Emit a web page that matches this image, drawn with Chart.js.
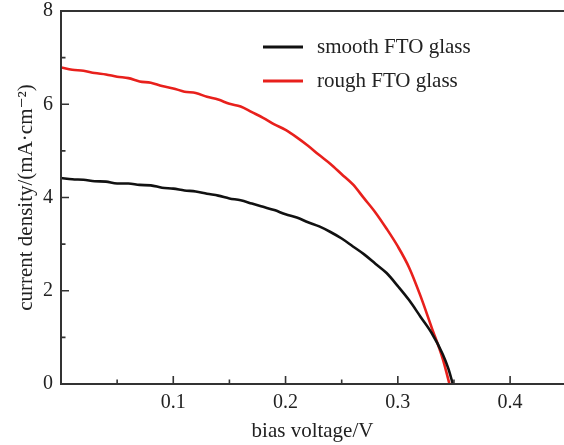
<!DOCTYPE html>
<html>
<head>
<meta charset="utf-8">
<script src="https://cdn.jsdelivr.net/npm/chart.js@4.4.1/dist/chart.umd.min.js"></script>
<style>
  html, body { margin: 0; padding: 0; background: #fff; }
  #wrap { width: 564px; height: 445px; }
</style>
</head>
<body>
<div id="wrap"><canvas id="c" width="564" height="445"></canvas></div>
<script>
// ---- data ----
const seriesNames = ['smooth FTO glass', 'rough FTO glass'];
const seriesColors = ['#111111', '#e8201c'];

const voltageSmooth = [0.000, 0.010, 0.020, 0.030, 0.040, 0.050, 0.060, 0.070, 0.080, 0.090,
                       0.100, 0.110, 0.120, 0.130, 0.140, 0.150, 0.160, 0.170, 0.180, 0.190,
                       0.200, 0.210, 0.220, 0.230, 0.240, 0.250, 0.260, 0.270, 0.280, 0.290,
                       0.300, 0.310, 0.320, 0.330, 0.340, 0.345, 0.349];
const currentSmooth = [4.42, 4.39, 4.38, 4.35, 4.34, 4.30, 4.30, 4.27, 4.26, 4.21,
                       4.19, 4.15, 4.13, 4.08, 4.04, 3.98, 3.94, 3.87, 3.80, 3.73,
                       3.64, 3.57, 3.47, 3.38, 3.26, 3.12, 2.95, 2.78, 2.58, 2.38,
                       2.10, 1.80, 1.45, 1.10, 0.64, 0.33, 0.00];

const voltageRough = [0.000, 0.010, 0.020, 0.030, 0.040, 0.050, 0.060, 0.070, 0.080, 0.090,
                      0.100, 0.110, 0.120, 0.130, 0.140, 0.150, 0.160, 0.170, 0.180, 0.190,
                      0.200, 0.210, 0.220, 0.230, 0.240, 0.250, 0.260, 0.270, 0.280, 0.290,
                      0.300, 0.310, 0.320, 0.330, 0.340, 0.346];
const currentRough = [6.79, 6.74, 6.72, 6.67, 6.64, 6.59, 6.56, 6.49, 6.46, 6.39,
                      6.34, 6.27, 6.24, 6.16, 6.10, 6.01, 5.95, 5.83, 5.71, 5.57,
                      5.45, 5.29, 5.11, 4.91, 4.72, 4.50, 4.28, 3.98, 3.68, 3.33,
                      2.95, 2.50, 1.90, 1.22, 0.54, 0.00];

const xMajorTicks = [0.1, 0.2, 0.3, 0.4];
const yMajorTicks = [0, 2, 4, 6, 8];

// ---- chart ----
const serif = "'Liberation Serif', 'DejaVu Serif', serif";
const axisColor = '#333333';

const framePlugin = {
  id: 'frame',
  afterDatasetsDraw(chart) {
    const ctx = chart.ctx;
    const a = chart.chartArea;
    const xs = chart.scales.x, ys = chart.scales.y;
    ctx.save();
    ctx.strokeStyle = axisColor;
    ctx.lineWidth = 2;
    ctx.beginPath();
    ctx.moveTo(a.right + 2, a.top); ctx.lineTo(a.left, a.top);
    ctx.lineTo(a.left, a.bottom); ctx.lineTo(a.right + 2, a.bottom);
    ctx.stroke();
    ctx.lineWidth = 1.6;
    ctx.beginPath();
    for (let i = 1; i <= 9; i++) {
      const v = i * 0.05;
      if (v > xs.max) break;
      const px = xs.getPixelForValue(v);
      const len = (i % 2 === 0) ? 8 : 4.5;
      ctx.moveTo(px, a.bottom); ctx.lineTo(px, a.bottom - len);
    }
    for (let v = 1; v < 8; v++) {
      const py = ys.getPixelForValue(v);
      const len = (v % 2 === 0) ? 8 : 4.5;
      ctx.moveTo(a.left, py); ctx.lineTo(a.left + len, py);
    }
    ctx.stroke();
    const legendY = [47, 81];
    ctx.font = '21px ' + serif;
    ctx.textBaseline = 'middle';
    ctx.fillStyle = '#222';
    chart.data.datasets.forEach((ds, i) => {
      ctx.strokeStyle = ds.borderColor;
      ctx.lineWidth = 3;
      ctx.beginPath();
      ctx.moveTo(263, legendY[i]); ctx.lineTo(303, legendY[i]);
      ctx.stroke();
      ctx.fillText(ds.label, 317, legendY[i]);
    });
    ctx.restore();
  }
};

const toPoints = (xs, ys) => xs.map((x, i) => ({ x: x, y: ys[i] }));

new Chart(document.getElementById('c'), {
  type: 'line',
  data: {
    datasets: [
      { label: seriesNames[0], data: toPoints(voltageSmooth, currentSmooth),
        borderColor: seriesColors[0], borderWidth: 2.6, pointRadius: 0,
        cubicInterpolationMode: 'monotone', fill: false },
      { label: seriesNames[1], data: toPoints(voltageRough, currentRough),
        borderColor: seriesColors[1], borderWidth: 2.6, pointRadius: 0,
        cubicInterpolationMode: 'monotone', fill: false }
    ]
  },
  options: {
    responsive: false,
    animation: false,
    devicePixelRatio: 1,
    layout: { padding: { top: 0, right: 0, left: 0, bottom: 0 } },
    plugins: { legend: { display: false }, tooltip: { enabled: false } },
    scales: {
      x: {
        type: 'linear', min: 0, max: 0.448,
        afterFit: s => { s.height = 61; },
        afterBuildTicks: s => { s.ticks = xMajorTicks.map(v => ({ value: v })); },
        grid: { display: false, drawTicks: false },
        border: { display: false },
        ticks: { autoSkip: false, maxRotation: 0, padding: 7, color: '#222',
                 font: { family: serif, size: 20 },
                 callback: v => v.toFixed(1) },
        title: { display: true, text: 'bias voltage/V', color: '#222',
                 font: { family: serif, size: 21 }, padding: { top: 0, bottom: 1 } }
      },
      y: {
        type: 'linear', min: 0, max: 8,
        afterFit: s => { s.width = 61; s.paddingTop = 11; s.paddingBottom = 0; },
        afterBuildTicks: s => { s.ticks = yMajorTicks.map(v => ({ value: v })); },
        grid: { display: false, drawTicks: false },
        border: { display: false },
        ticks: { autoSkip: false, padding: 8, color: '#222',
                 font: { family: serif, size: 20, lineHeight: 1.1 },
                 callback: v => String(v) },
        title: { display: true, text: 'current density/(mA·cm⁻²)', color: '#222',
                 font: { family: serif, size: 21 }, padding: { top: 14, bottom: 0 } }
      }
    }
  },
  plugins: [framePlugin]
});
</script>
</body>
</html>
